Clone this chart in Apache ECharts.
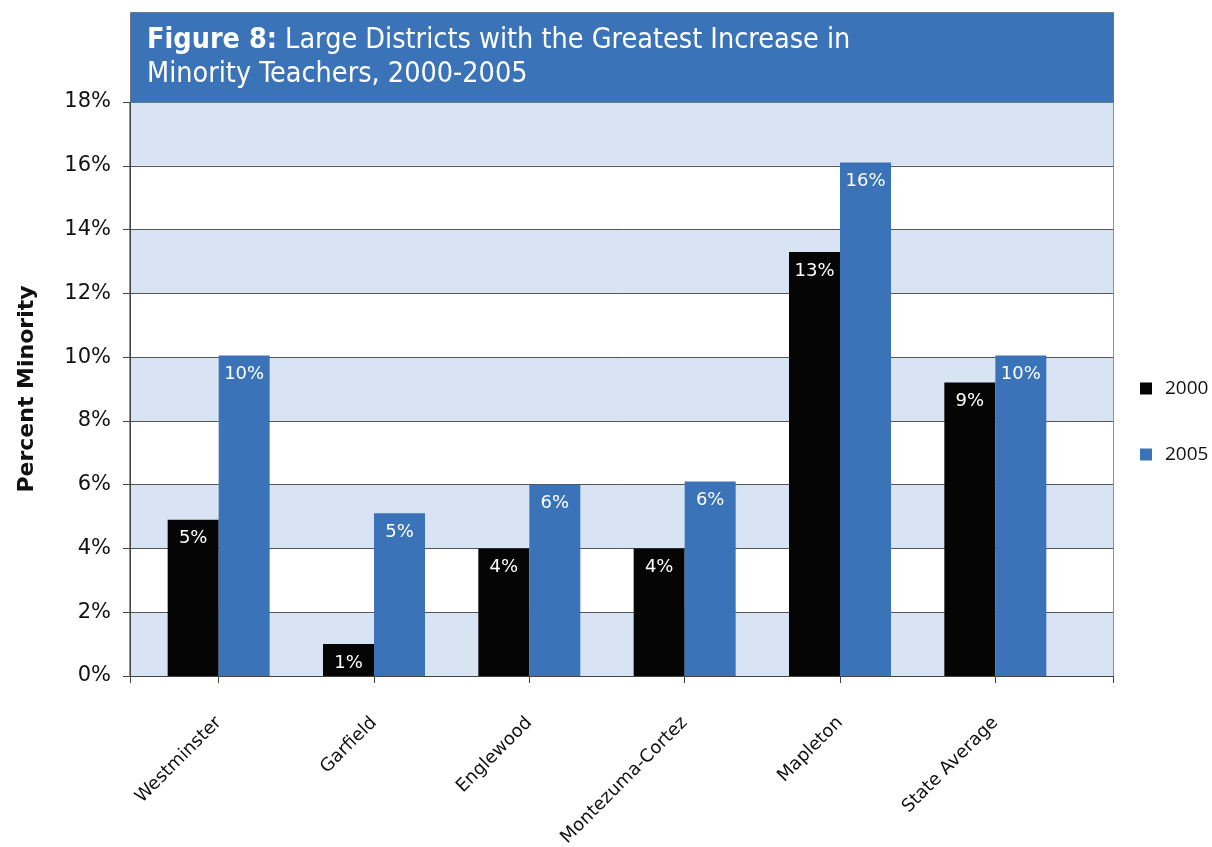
<!DOCTYPE html>
<html><head><meta charset="utf-8">
<script src="https://cdn.jsdelivr.net/npm/echarts@6/dist/echarts.min.js"></script>
<style>html,body{margin:0;padding:0;background:#fff}#c{width:1212px;height:847px}</style>
</head><body><div id="c"></div>
<script>
const categories = ['Westminster','Garfield','Englewood','Montezuma-Cortez','Mapleton','State Average'];
const seriesNames = ['2000','2005'];
const values2000 = [4.9, 1.0, 4.0, 4.0, 13.3, 9.2];
const values2005 = [10.05, 5.1, 6.0, 6.1, 16.1, 10.05];
const yTicks = [0,2,4,6,8,10,12,14,16,18];
const titleBold = 'Figure 8:';
const titleRest = ' Large Districts with the Greatest Increase in';
const titleLine2 = 'Minority Teachers, 2000-2005';
const yName = 'Percent Minority';

const chart = echarts.init(document.getElementById('c'));
const labelCfg = {show:true, position:'insideTop', distance:10, color:'#fff', fontFamily:'DejaVu Sans', fontSize:18,
  formatter: p => Math.round(p.value) + '%'};
chart.setOption({
  animation:false,
  backgroundColor:'#fff',
  grid:[
    {left:130, right:99, top:102, bottom:171, show:true, borderColor:'#222', borderWidth:1, backgroundColor:'transparent', outerBoundsMode:'none', containLabel:false},
    {left:141, right:139, top:102, bottom:171, outerBoundsMode:'none', containLabel:false}
  ],
  xAxis:[
    {gridIndex:0, type:'category', data:[''], boundaryGap:true,
     axisLine:{lineStyle:{color:'#444'}}, axisTick:{show:true, length:7, lineStyle:{color:'#444'}}, axisLabel:{show:false}},
    {gridIndex:1, type:'category', data:categories,
     axisLine:{show:false}, axisTick:{show:true, alignWithLabel:true, length:7, lineStyle:{color:'#444'}},
     axisLabel:{rotate:45, margin:44, color:'#111', fontFamily:'DejaVu Sans', fontSize:18}}
  ],
  yAxis:[
    {gridIndex:0, type:'value', min:0, max:18, interval:2,
     name:yName, nameLocation:'middle', nameGap:92, nameRotate:90,
     nameTextStyle:{fontFamily:'DejaVu Sans', fontWeight:'bold', fontSize:22, color:'#111'},
     axisLine:{show:true, lineStyle:{color:'#444'}}, axisTick:{show:true, length:7, lineStyle:{color:'#444'}},
     axisLabel:{formatter: v => v + '%', color:'#111', fontFamily:'DejaVu Sans', fontSize:21, margin:19},
     splitLine:{show:true, lineStyle:{color:'#555', width:1}},
     splitArea:{show:true, areaStyle:{color:['#D8E4F3','#FFFFFF']}}},
    {gridIndex:1, type:'value', min:0, max:18, interval:2, show:false, splitLine:{show:false}}
  ],
  legend:{orient:'vertical', left:1135, top:374, itemWidth:12, itemHeight:12, itemGap:47, icon:'rect',
    data:seriesNames, textStyle:{fontFamily:'Open Sans', fontSize:19, color:'#111', padding:[0,0,0,8]}},
  series:[
    {name:seriesNames[0], type:'bar', xAxisIndex:1, yAxisIndex:1, data:values2000, barWidth:51, barGap:'0%',
     itemStyle:{color:'#050505'}, label:labelCfg, z:3},
    {name:seriesNames[1], type:'bar', xAxisIndex:1, yAxisIndex:1, data:values2005, barWidth:51, barGap:'0%',
     itemStyle:{color:'#3B73B8'}, label:labelCfg, z:3}
  ],
  graphic:[
    {type:'rect', left:130, top:12, shape:{width:983, height:90}, style:{fill:'#3B73B8', stroke:'#6a7a8a', lineWidth:1}, z:10},
    {type:'text', left:147, top:26, z:11, style:{
      text:'{b|'+titleBold+'}{n|'+titleRest+'}\n{n|'+titleLine2+'}',
      rich:{b:{fontFamily:'DejaVu Sans Condensed', fontWeight:'bold', fontSize:28.5, fill:'#fff', lineHeight:34},
            n:{fontFamily:'DejaVu Sans Condensed', fontSize:28.5, fill:'#fff', lineHeight:34}}}}
  ]
});
</script></body></html>
